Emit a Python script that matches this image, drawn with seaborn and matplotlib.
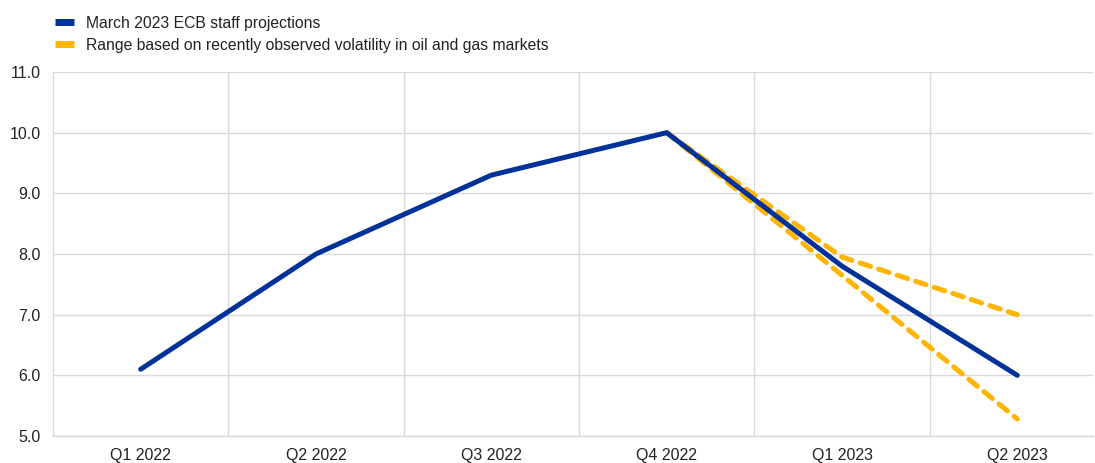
import matplotlib
matplotlib.use("Agg")
import matplotlib.pyplot as plt
import seaborn as sns
import pandas as pd
import numpy as np
from matplotlib.lines import Line2D

categories = ["Q1 2022", "Q2 2022", "Q3 2022", "Q4 2022", "Q1 2023", "Q2 2023"]
projection = [6.1, 8.0, 9.3, 10.0, 7.8, 6.0]
range_categories = ["Q4 2022", "Q1 2023", "Q2 2023"]
range_upper = [10.0, 7.95, 7.0]
range_lower = [10.0, 7.65, 5.28]

BLUE = "#003299"
YELLOW = "#FFB400"
GRID = "#d9d9d9"

sns.set_theme(style="white")
plt.rcParams["font.family"] = ["Liberation Sans", "DejaVu Sans"]

fig = plt.figure(figsize=(10.95, 4.63), dpi=100)
ax = fig.add_axes([53 / 1095, 27 / 463, (1093 - 53) / 1095, (436 - 72) / 463])

pos = {c: i for i, c in enumerate(categories)}
df_proj = pd.DataFrame({"x": [pos[c] for c in categories], "y": projection})
df_up = pd.DataFrame({"x": [pos[c] for c in range_categories], "y": range_upper})
df_lo = pd.DataFrame({"x": [pos[c] for c in range_categories], "y": range_lower})

for d in (df_up, df_lo):
    sns.lineplot(data=d, x="x", y="y", ax=ax, color=YELLOW, linewidth=3.6,
                 dashes=False, zorder=3)
for line in ax.get_lines():
    line.set_dashes((2.2, 1.7))
    line.set_dash_capstyle("round")
sns.lineplot(data=df_proj, x="x", y="y", ax=ax, color=BLUE, linewidth=3.6,
             zorder=4, solid_capstyle="round")

ax.set_xlim(-0.5, 5.5 - 12 / 175.2)
ax.set_ylim(5.0, 11.0)
ax.set_yticks(np.arange(5.0, 11.01, 1.0))
ax.set_yticklabels([f"{v:.1f}" for v in np.arange(5.0, 11.01, 1.0)])
ax.set_xticks(range(len(categories)))
ax.set_xticklabels(categories)
ax.set_xticks(np.arange(0.5, len(categories) - 0.5, 1.0), minor=True)
ax.set_xlabel("")
ax.set_ylabel("")

ax.grid(axis="y", which="major", color=GRID, linewidth=1)
ax.grid(axis="x", which="minor", color=GRID, linewidth=1)
ax.grid(axis="x", which="major", visible=False)
ax.set_axisbelow(True)
for s in ["top", "right"]:
    ax.spines[s].set_visible(False)
for s in ["left", "bottom"]:
    ax.spines[s].set_color(GRID)
    ax.spines[s].set_linewidth(1)
ax.tick_params(axis="both", which="both", length=0, labelsize=11.5, colors="#222222")
ax.tick_params(axis="y", pad=9)
ax.tick_params(axis="x", pad=8.5)

handles = [Line2D([0], [0], color=BLUE, linewidth=5, solid_capstyle="butt"),
           Line2D([0], [0], color=YELLOW, linewidth=5, solid_capstyle="butt")]
labels = ["March 2023 ECB staff projections",
          "Range based on recently observed volatility in oil and gas markets"]
fig.legend(handles, labels, loc="upper left", bbox_to_anchor=(0.040, 0.99),
           frameon=False, fontsize=11.3, handlelength=1.25, handletextpad=0.75,
           labelspacing=0.47, borderaxespad=0.3, labelcolor="#222222")

fig.savefig("out.png", dpi=100)
